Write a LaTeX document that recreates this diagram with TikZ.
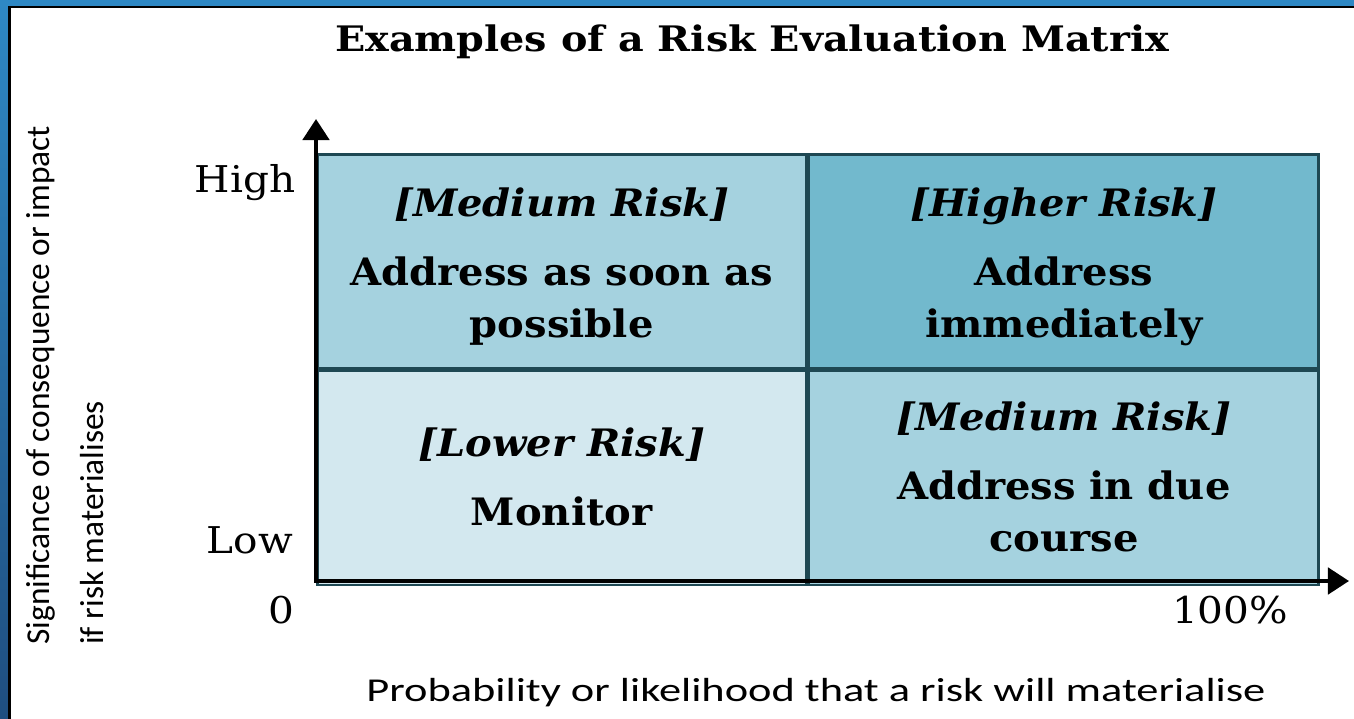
\documentclass[tikz,border=0pt]{standalone}
\usepackage{fontspec}
\setmainfont{DejaVu Serif}
\newfontfamily\axisfont{Carlito}
\usetikzlibrary{arrows.meta}

\definecolor{frametop}{HTML}{2E88C4}
\definecolor{framebottom}{HTML}{1F4E80}
\definecolor{gridline}{HTML}{1E4853}
\definecolor{riskhigh}{HTML}{72B9CD}
\definecolor{riskmed}{HTML}{A5D2DF}
\definecolor{risklow}{HTML}{D3E8EF}

\begin{document}
\begin{tikzpicture}[x=0.02cm, y=-0.02cm,
    % Styles
    cell/.style={draw=gridline, line width=1.5pt, anchor=north west, align=center,
                 inner sep=0pt},
    tl cell/.style={cell, minimum width=9.78cm, minimum height=4.28cm},
    tr cell/.style={cell, minimum width=10.2cm, minimum height=4.28cm},
    % Cell text is set in a separate node so that it can be stretched
    celltext/.style={align=center, xscale=1.06, font=\bfseries\fontsize{21.5}{29.5}\selectfont},
    axis/.style={line width=2.3pt, {Triangle[width=15pt, length=12pt]}-{Triangle[width=15pt, length=12pt]}},
    ticklabel/.style={xscale=1.1, font=\fontsize{21}{24}\selectfont},
    axislabel/.style={font=\axisfont\fontsize{19}{31}\selectfont}
]
    \useasboundingbox (0,0) rectangle (1354,719);

    % Slide frame
    \shade[top color=frametop, bottom color=framebottom] (0,0) rectangle (8,719);
    \fill[frametop] (0,0) rectangle (1354,6);
    \fill[black] (8,6) rectangle (10.5,719);
    \fill[black] (8,6) rectangle (1354,8.5);

    % Title
    \node[xscale=1.13, font=\bfseries\fontsize{20}{24}\selectfont] (title) at (752,42) {Examples of a Risk Evaluation Matrix};

    % Matrix cells
    \node[tl cell, fill=riskmed] (medhigh) at (316,153) {};
    \node[tr cell, fill=riskhigh] (higher) at (medhigh.north east) {};
    \node[tl cell, fill=risklow] (lower) at (medhigh.south west) {};
    \node[tr cell, fill=riskmed] (medlow) at (medhigh.south east) {};

    \node[celltext] (medhightext) at ([yshift=-3pt]medhigh.center)
        {{\itshape [Medium Risk]}\\[10pt] Address as soon as\\possible};
    \node[celltext] (highertext) at ([yshift=-3pt]higher.center)
        {{\itshape [Higher Risk]}\\[10pt] Address\\immediately};
    \node[celltext] (lowertext) at ([yshift=0.5pt]lower.center)
        {{\itshape [Lower Risk]}\\[10pt] Monitor};
    \node[celltext] (medlowtext) at ([yshift=0.5pt]medlow.center)
        {{\itshape [Medium Risk]}\\[10pt] Address in due\\course};

    % Axes
    \coordinate (origin) at (316,581);
    \coordinate (ytip) at (316,119);
    \coordinate (xtip) at (1349,581);
    \draw[axis] (ytip) |- (xtip);

    % Axis ticks and labels
    \node[ticklabel] (high) at (245,183) {High};
    \node[ticklabel] (low) at (250,540) {Low};
    \node[ticklabel] (zero) at (281,610) {0};
    \node[ticklabel] (hundred) at (1230,610) {100\%};
    \node[axislabel, rotate=90, anchor=north west, align=left, inner sep=0pt] (ylabel) at (26,645)
        {Significance of consequence or impact\\if risk materialises};
    \node[axislabel, xscale=1.33] (xlabel) at (816,693) {Probability or likelihood that a risk will materialise};
\end{tikzpicture}
\end{document}
